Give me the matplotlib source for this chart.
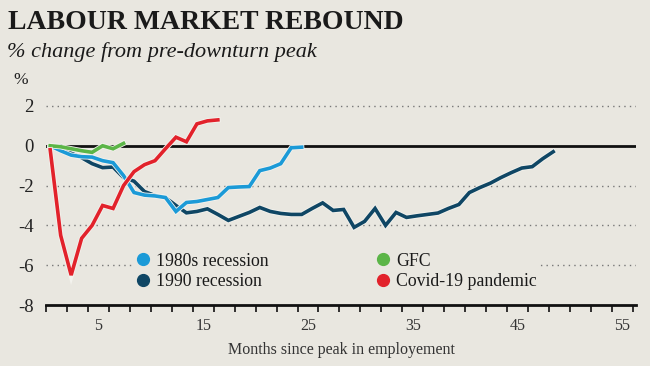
import numpy as np
import matplotlib.pyplot as plt
import matplotlib.patheffects as pe
from matplotlib.lines import Line2D

# Data: % change in employment from pre-downturn peak, monthly
first_month = 0.4  # first reading sits just right of the axis origin
rec_1980s = [0, -0.25, -0.47, -0.55, -0.57, -0.75, -0.85, -1.5, -2.35, -2.48,
             -2.52, -2.6, -3.3, -2.85, -2.8, -2.7, -2.6, -2.1, -2.07, -2.05,
             -1.25, -1.12, -0.9, -0.1, -0.07]
rec_1990 = [0, 0, -0.37, -0.6, -0.9, -1.1, -1.07, -1.6, -1.78, -2.3,
            -2.5, -2.6, -3.0, -3.37, -3.3, -3.17, -3.45, -3.75, -3.55, -3.35,
            -3.1, -3.3, -3.4, -3.45, -3.45, -3.15, -2.87, -3.25, -3.2, -4.1,
            -3.8, -3.15, -4.0, -3.35, -3.6, -3.52, -3.45, -3.38, -3.15, -2.95,
            -2.35, -2.1, -1.88, -1.6, -1.35, -1.12, -1.05, -0.65, -0.3]
gfc = [0, -0.05, -0.15, -0.25, -0.33, 0.0, -0.15, 0.12]
covid = [-0.2, -4.5, -6.5, -4.65, -4.0, -3.0, -3.15, -2.0, -1.3, -0.95,
         -0.75, -0.15, 0.43, 0.2, 1.1, 1.25, 1.3]

series = [
    ("1980s recession", rec_1980s, "#1b9ad7"),
    ("1990 recession", rec_1990, "#0f4664"),
    ("GFC", gfc, "#5bb547"),
    ("Covid-19 pandemic", covid, "#e2222b"),
]
draw_order = [1, 0, 2, 3]

y_ticks = [2, 0, -2, -4, -6, -8]
x_labels = [5, 15, 25, 35, 45, 55]

bg = "#e9e7e0"
serif = ["Liberation Serif", "DejaVu Serif"]
plt.rcParams["font.family"] = serif

fig = plt.figure(figsize=(6.5, 3.66), dpi=100, facecolor=bg)
ax = fig.add_axes([46 / 650, 61 / 366, 590 / 650, 209 / 366])
ax.set_facecolor(bg)

for i in draw_order:
    name, vals, col = series[i]
    months = first_month + np.arange(len(vals))
    ax.plot(months, vals, color=col, lw=2.6, solid_joinstyle="miter", zorder=3,
            path_effects=[pe.Stroke(linewidth=3.8, foreground="#f4f3ee"), pe.Normal()])

ax.set_xlim(0, 56.3)
ax.set_ylim(-8, 2.5)

# gridlines and zero line
for v in y_ticks:
    if v == 0:
        ax.axhline(v, color="#111111", lw=2, zorder=2)
    elif v != -8:
        ax.axhline(v, color="#777777", lw=1, ls=(0, (1, 3)), zorder=1)

for s in ["top", "right", "left"]:
    ax.spines[s].set_visible(False)
ax.spines["bottom"].set_linewidth(2)
ax.spines["bottom"].set_color("#111111")

ax.set_yticks(y_ticks)
ax.set_yticklabels([str(v) for v in y_ticks], fontsize=13.5, color="#222222")
ax.tick_params(axis="y", length=0, pad=9)

ax.set_xticks(x_labels)
ax.set_xticklabels([str(v) for v in x_labels], fontsize=11.5, color="#333333")
ax.set_xticks(np.arange(0, 57, 2), minor=True)
ax.tick_params(axis="x", which="major", length=0, pad=9)
ax.tick_params(axis="x", which="minor", length=5, width=1.2, color="#111111")
ax.set_xlabel("Months since peak in employement", fontsize=11.5, color="#333333", labelpad=6)

handles = [Line2D([], [], ls="none", marker="o", ms=8.5, color=c, label=n)
           for n, _, c in series]
leg = ax.legend(handles=handles, ncol=2, loc="upper left",
                bbox_to_anchor=(0.134, 0.31), frameon=True, facecolor=bg,
                edgecolor="none", framealpha=1, fontsize=12.8, handlelength=0.6,
                handletextpad=0.45, columnspacing=6.1, labelspacing=0.2,
                borderpad=0.2)
leg.set_zorder(4)
for t in leg.get_texts():
    t.set_color("#1a1a1a")

fig.text(8 / 650, 1 - 10 / 366, "LABOUR MARKET REBOUND", fontsize=20, fontweight="bold",
         color="#1a1a1a", va="top", ha="left")
fig.text(7 / 650, 1 - 42 / 366, "% change from pre-downturn peak", fontsize=16,
         style="italic", color="#1a1a1a", va="top", ha="left")
fig.text(13 / 650, 1 - 72 / 366, "%", fontsize=12.5, color="#222222", va="top", ha="left")

fig.savefig("out.png", dpi=100, facecolor=bg)
